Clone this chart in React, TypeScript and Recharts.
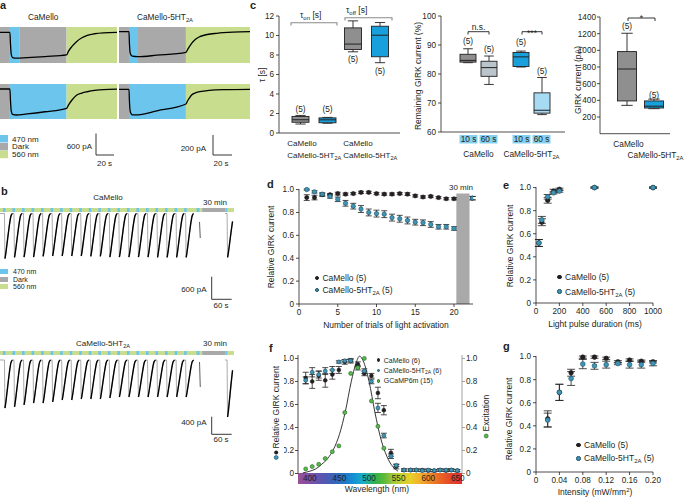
import React from "react";
import {
  LineChart,
  Line,
  BarChart,
  Bar,
  ComposedChart,
  Scatter,
  ErrorBar,
  XAxis,
  YAxis,
  ReferenceArea,
  Legend,
} from "recharts";

const FONT = "'Liberation Sans', Arial, Helvetica, sans-serif";
const INK = "#231f20";
const LIGHT: Record<string, string> = { blue: "#6cc5ec", dark: "#a9a9a9", green: "#c8de8e" };
const TEAL = "#3f95b5";
const TEAL_EDGE = "#1b4f62";
const GC = "#5cb848";
const GC_EDGE = "#22632a";
const BOX_GREY = "#8f8f8f";
const BOX_BLUE = "#18a0dc";
const BOX_GREY_LT = "#b9c5ca";
const BOX_BLUE_LT = "#a6dbf3";
const TAG = "#86d1f1";
const TICK = { fontSize: 8.2, fill: INK, fontFamily: FONT };

// ---- a: single sweeps (time s, current pA)
const aTopCamT = [0, 11, 11.6, 12.5, 14, 18, 30, 50, 74, 76, 80, 85, 91, 97, 105, 115, 130];
const aTopCamI = [0, 0, -300, -600, -690, -705, -690, -660, -615, -520, -385, -255, -150, -85, -40, -15, -5];
const aTopHtT = [0, 10.5, 11, 12, 14, 20, 40, 70.5, 72.5, 76.5, 80, 85, 93, 103, 120, 138];
const aTopHtI = [0, 0, -120, -220, -245, -250, -235, -206, -175, -116, -80, -50, -28, -16, -5, 0];
const aBotCamT = [0, 11, 11.6, 12.5, 14, 18, 30, 50, 74, 76, 80, 85, 91, 97, 105, 115, 130];
const aBotCamI = [0, 0, -300, -600, -690, -708, -680, -620, -526, -440, -300, -170, -110, -75, -40, -15, -5];
const aBotHtT = [0, 10.5, 11, 12, 14, 20, 40, 70.5, 72, 74, 76.5, 80, 85, 95, 110, 138];
const aBotHtI = [0, 0, -120, -230, -255, -255, -215, -147, -120, -90, -57, -38, -24, -10, -3, 0];
const aTopCamLight = [["dark", 0, 11], ["blue", 11, 22], ["dark", 22, 74], ["green", 74, 130]];
const aTopHtLight = [["dark", 0, 10.5], ["blue", 10.5, 20], ["dark", 20, 70.5], ["green", 70.5, 138]];
const aBotCamLight = [["dark", 0, 11], ["blue", 11, 74], ["green", 74, 130]];
const aBotHtLight = [["dark", 0, 10.5], ["blue", 10.5, 70.5], ["green", 70.5, 138]];

// ---- b: repeated activation (time s, current pA)
const bOnsets = [12, 38, 64, 90, 116, 142, 168, 194, 220, 246, 272, 298, 324, 350, 376, 402, 428, 454, 480, 506];
const bCamAmp = [1230, 1200, 1190, 1190, 1170, 1160, 1160, 1160, 1160, 1170, 1170, 1190, 1190, 1190, 1190, 1190, 1200, 1200, 1200, 1200];
const bHtAmp = [1066, 1043, 999, 955, 955, 932, 888, 888, 866, 866, 866, 844, 821, 821, 821, 821, 821, 821, 821, 821];
// sweep outline: fast drop (thin), slow recovery (thick) from index 1 on
const sweepShapeT = [0, 1.5, 3, 7, 11, 15, 18, 22];
const sweepShapeF = [0, -1, -0.93, -0.68, -0.42, -0.18, -0.05, 0];
const bLastBlue = [536, 544];
const bPartialT = [544, 546];
const bCamPartialI = [-230, -670];
const bHtPartialI = [-44, -600];
const bGap = [551, 614];
const bPostOnset = 619;
const bCamPostAmp = 1200;
const bHtPostAmp = 1265;

// ---- c: box plots [min, q1, median, q3, max]
const tauCats = ["on", "off"];
const tauCaMello = [[0.92, 1.1, 1.36, 1.7, 1.8], [8.33, 8.57, 9.12, 10.78, 11.5]];
const tauHT = [[1.0, 1.05, 1.35, 1.55, 1.6], [7.21, 7.82, 10.03, 10.95, 11.33]];
const tauN = [[5, 5], [5, 5]];
const tauNAt = [[2.45, 2.45], [7.6, 6.4]];

const remainCats = ["CaMello", "CaMello-5HT2A"];
const remain10 = [[83.9, 84.1, 84.7, 86.8, 88.7], [82.4, 82.6, 85.9, 87.4, 87.9]];
const remain60 = [[76.4, 79.2, 82.2, 84.4, 86.2], [66.0, 66.5, 67.5, 73.5, 78.8]];
const remainN = [[5, 5], [5, 5]];
const remainNAt = [[91.4, 88.5], [91.0, 81.0]];

const girkCats = ["CaMello", "CaMello-5HT2A"];
const girkBox = [[340, 393, 776, 985, 1205], [300, 308, 330, 393, 415]];
const girkN = [5, 5];
const girkNAt = [1290, 470];

// ---- d: relative current per trial (22.4 = after 30 min)
const dTrials = [1, 2, 3, 4, 5, 6, 7, 8, 9, 10, 11, 12, 13, 14, 15, 16, 17, 18, 19, 20, 22.4];
const dCaMello = [0.93, 0.93, 0.955, 0.955, 0.965, 0.96, 0.965, 0.975, 0.975, 0.965, 0.96, 0.96, 0.965, 0.96, 0.945, 0.935, 0.94, 0.93, 0.92, 0.92, 0.925];
const dCaMelloErr = [0.025, 0.02, 0.015, 0.01, 0.012, 0.01, 0.01, 0.01, 0.01, 0.01, 0.01, 0.01, 0.01, 0.012, 0.01, 0.01, 0.01, 0.01, 0.01, 0.01, 0.015];
const dHT = [1.0, 0.98, 0.96, 0.94, 0.915, 0.88, 0.855, 0.83, 0.8, 0.79, 0.785, 0.755, 0.745, 0.73, 0.715, 0.71, 0.695, 0.675, 0.675, 0.66, 0.925];
const dHTErr = [0.005, 0.01, 0.01, 0.015, 0.02, 0.025, 0.025, 0.03, 0.03, 0.03, 0.03, 0.03, 0.03, 0.03, 0.025, 0.025, 0.025, 0.02, 0.02, 0.015, 0.015];

// ---- e: pulse duration (ms)
const eDur = [25, 50, 100, 150, 200, 500, 1000];
const eCaMello = [0.52, 0.7, 0.89, 0.97, 0.985, 1.0, 1.0];
const eCaMelloErr = [0.03, 0.03, 0.025, 0.015, 0.01, 0.005, 0.005];
const eHT = [0.52, 0.72, 0.92, 0.955, 0.97, 1.0, 1.0];
const eHTErr = [0.03, 0.03, 0.02, 0.01, 0.01, 0.005, 0.005];

// ---- f: action spectrum (nm)
const fWl = [393, 404, 415, 426, 438, 449, 459, 469, 481, 492, 504, 515, 525, 537, 546, 559, 570, 580, 590, 600, 610, 620, 630, 639, 649];
const fCaMello = [0.83, 0.8, 0.85, 0.81, 0.86, 0.9, 0.97, 0.98, 0.95, 0.87, 0.85, 0.7, 0.55, 0.18, 0.06, 0.03, 0.03, 0.03, 0.03, 0.025, 0.025, 0.03, 0.025, 0.03, 0.025];
const fCaMelloErr = [0.05, 0.06, 0.04, 0.06, 0.04, 0.03, 0.02, 0.02, 0.02, 0.02, 0.02, 0.05, 0.04, 0.03, 0.02, 0.01, 0.01, 0.01, 0.01, 0.01, 0.01, 0.01, 0.01, 0.01, 0.01];
const fHT = [0.81, 0.88, 0.86, 0.89, 0.9, 0.97, 0.98, 0.98, 0.92, 0.89, 0.8, 0.57, 0.33, 0.15, 0.07, 0.03, 0.03, 0.03, 0.025, 0.03, 0.025, 0.03, 0.03, 0.03, 0.025];
const fHTErr = [0.03, 0.04, 0.03, 0.03, 0.03, 0.01, 0.01, 0.01, 0.02, 0.02, 0.02, 0.04, 0.02, 0.02, 0.01, 0.01, 0.01, 0.01, 0.01, 0.01, 0.01, 0.01, 0.01, 0.01, 0.01];
const fGCaMP = [0.04, 0.06, 0.08, 0.13, 0.19, 0.24, 0.53, 0.87, 0.92, 1.0, 0.63, 0.41, 0.22];
const fFitWl = [388, 400, 410, 420, 430, 440, 450, 460, 470, 478, 484, 490, 500, 510, 520, 530, 540, 549];
const fFit = [0.005, 0.02, 0.04, 0.08, 0.13, 0.21, 0.34, 0.54, 0.8, 0.96, 1.02, 0.98, 0.8, 0.53, 0.3, 0.15, 0.06, 0.02];

// ---- g: intensity (mW/mm2)
const gInt = [0.02, 0.04, 0.06, 0.08, 0.1, 0.12, 0.14, 0.16, 0.18, 0.2];
const gCaMello = [0.46, 0.69, 0.86, 0.995, 0.995, 0.985, 0.955, 0.97, 0.96, 0.955];
const gCaMelloErr = [0.07, 0.07, 0.03, 0.01, 0.01, 0.01, 0.01, 0.01, 0.01, 0.01];
const gHT = [0.45, 0.69, 0.81, 0.935, 0.92, 0.93, 0.94, 0.93, 0.93, 0.94];
const gHTErr = [0.06, 0.07, 0.06, 0.04, 0.03, 0.03, 0.01, 0.03, 0.03, 0.02];

const fmt1 = (v: number) => (v === 0 ? "0" : v.toFixed(1));
const fmt2 = (v: number) => (v === 0 ? "0" : v.toFixed(2));
const unitTicks = [0, 0.2, 0.4, 0.6, 0.8, 1.0];

type Rect = { x: number; y: number; w: number; h: number };

// place a chart so that its plot area lands on rect
function frame(r: Rect, yW: number, xH: number, yWR = 0, mt = 8, mr = 8, mb = 2) {
  return {
    style: { position: "absolute" as const, left: r.x - yW, top: r.y - mt },
    width: yW + r.w + yWR + mr,
    height: mt + r.h + xH + mb,
    margin: { top: mt, right: mr, bottom: mb, left: 0 },
  };
}

const HT = ({ fs = 8.3 }: { fs?: number }) => (
  <>
    CaMello-5HT<tspan dy={2} fontSize={fs * 0.7}>2A</tspan>
    <tspan dy={-2}>{""}</tspan>
  </>
);

function Trace({ rect, t, v, light, xMax, yDom }: any) {
  const rows = t.map((x: number, i: number) => ({ t: x, v: v[i] }));
  return (
    <div style={{ position: "absolute", left: rect.x, top: rect.y }}>
      <LineChart width={rect.w} height={rect.h} data={rows} margin={{ top: 0, right: 0, bottom: 0, left: 0 }}>
        <XAxis type="number" dataKey="t" domain={[0, xMax]} hide />
        <YAxis type="number" domain={yDom} hide />
        {light.map(([k, a, b]: any, i: number) => (
          <ReferenceArea key={i} x1={a} x2={b} fill={LIGHT[k]} fillOpacity={1} stroke="none" />
        ))}
        <Line type="monotone" dataKey="v" stroke="#000" strokeWidth={1.3} dot={false} isAnimationActive={false} />
      </LineChart>
    </div>
  );
}

function Sweeps({ rect, amps, partialI, postAmp, yDom, barY }: any) {
  // v: whole trace (thin), r: recovery phase only (thick)
  const rows: { t: number; v: number; r: number | null }[] = [{ t: 0, v: 0, r: 0 }];
  bOnsets.forEach((t0, i) =>
    sweepShapeT.forEach((dt, j) => {
      const v = sweepShapeF[j] * amps[i];
      rows.push({ t: t0 + dt, v, r: j === 0 ? null : v });
    })
  );
  const partial = bPartialT.map((t, i) => ({ t, v: partialI[i] }));
  const post = [{ t: bGap[1], v: 0, r: 0 as number | null }, { t: bPostOnset, v: 0, r: 0 as number | null }].concat(
    sweepShapeT.slice(1, 6).map((dt, j) => {
      const v = sweepShapeF[j + 1] * postAmp;
      return { t: bPostOnset + dt, v, r: j === 0 ? v : v };
    })
  );
  post[1].r = null;
  const [y1, y2] = barY;
  return (
    <div style={{ position: "absolute", left: rect.x, top: rect.y }}>
      <LineChart width={rect.w} height={rect.h} margin={{ top: 0, right: 0, bottom: 0, left: 0 }}>
        <XAxis type="number" dataKey="t" domain={[0, 638]} hide allowDataOverflow />
        <YAxis type="number" domain={yDom} hide />
        <ReferenceArea x1={0} x2={bGap[0]} y1={y1} y2={y2} fill={LIGHT.green} fillOpacity={1} stroke="none" />
        {bOnsets.map((t0) => (
          <ReferenceArea key={t0} x1={t0 - 4} x2={t0 + 3} y1={y1} y2={y2} fill={LIGHT.blue} fillOpacity={1} stroke="none" />
        ))}
        <ReferenceArea x1={bLastBlue[0]} x2={bLastBlue[1]} y1={y1} y2={y2} fill={LIGHT.blue} fillOpacity={1} stroke="none" />
        <ReferenceArea x1={bGap[0]} x2={bGap[1]} y1={y1} y2={y2} fill={LIGHT.dark} fillOpacity={1} stroke="none" />
        <ReferenceArea x1={bGap[1]} x2={bPostOnset + 2} y1={y1} y2={y2} fill={LIGHT.blue} fillOpacity={1} stroke="none" />
        <ReferenceArea x1={bPostOnset + 2} x2={638} y1={y1} y2={y2} fill={LIGHT.green} fillOpacity={1} stroke="none" />
        <Line data={rows} type="monotone" dataKey="v" stroke="#555" strokeWidth={0.5} dot={false} isAnimationActive={false} />
        <Line data={rows} type="monotone" dataKey="r" stroke="#000" strokeWidth={1.4} dot={false} isAnimationActive={false} />
        <Line data={partial} type="linear" dataKey="v" stroke="#333" strokeWidth={0.8} dot={false} isAnimationActive={false} />
        <Line data={post} type="monotone" dataKey="v" stroke="#555" strokeWidth={0.5} dot={false} isAnimationActive={false} />
        <Line data={post} type="monotone" dataKey="r" stroke="#000" strokeWidth={1.4} dot={false} isAnimationActive={false} />
      </LineChart>
    </div>
  );
}

function BoxShape(props: any) {
  const { x, y, width, height, stats, fill, n, nAt } = props;
  if (!stats) return null;
  const [mn, q1, md, q3, mx] = stats;
  const top = Math.min(y, y + height);
  const bot = Math.max(y, y + height);
  const py = (v: number) => bot - ((v - mn) / (mx - mn)) * (bot - top);
  const cx = x + width / 2;
  const cap = width * 0.3;
  const s = { stroke: INK, strokeWidth: 0.9 };
  return (
    <g>
      <line x1={cx} x2={cx} y1={py(mx)} y2={py(q3)} {...s} />
      <line x1={cx} x2={cx} y1={py(q1)} y2={py(mn)} {...s} />
      <line x1={cx - cap} x2={cx + cap} y1={py(mx)} y2={py(mx)} {...s} />
      <line x1={cx - cap} x2={cx + cap} y1={py(mn)} y2={py(mn)} {...s} />
      <rect x={x} y={py(q3)} width={width} height={Math.max(py(q1) - py(q3), 0.5)} fill={fill} {...s} />
      <line x1={x} x2={x + width} y1={py(md)} y2={py(md)} stroke={INK} strokeWidth={1} />
      <text x={cx} y={py(nAt) + 3} textAnchor="middle" fontSize={8.3} fill={INK} fontFamily={FONT}>
        ({n})
      </text>
    </g>
  );
}

const axisProps = { stroke: INK, strokeWidth: 0.8 };

function TauTick({ x, y, index }: any) {
  const left = x - (index === 0 ? 27 : 23.5);
  return (
    <g fontSize={8} fill={INK} fontFamily={FONT}>
      <text x={left} y={y + 13}>CaMello</text>
      <text x={left} y={y + 25}>
        <HT fs={8} />
      </text>
    </g>
  );
}

function TauChart() {
  const rows = tauCats.map((c, i) => ({
    cat: c,
    cam: tauCaMello[i],
    ht: tauHT[i],
    camN: tauN[i][0],
    htN: tauN[i][1],
    camAt: tauNAt[i][0],
    htAt: tauNAt[i][1],
  }));
  const f = frame({ x: 279, y: 16, w: 121, h: 117 }, 14, 30, 0, 8, 14);
  return (
    <div style={f.style}>
      <BarChart width={f.width} height={f.height} data={rows} margin={f.margin} barGap={10}>
        <XAxis dataKey="cat" interval={0} tick={(p: any) => <TauTick {...p} />} tickLine={false} tickSize={0} tickMargin={0} height={30} padding={{ left: 9, right: 7 }} {...axisProps} />
        <YAxis type="number" domain={[0, 12]} ticks={[0, 2, 4, 6, 8, 10, 12]} interval={0} width={14} tick={TICK} tickSize={3} {...axisProps} />
        <Bar dataKey={(d: any) => [d.cam[0], d.cam[4]]} barSize={17} isAnimationActive={false}
          shape={(p: any) => <BoxShape {...p} stats={p.payload.cam} fill={BOX_GREY} n={p.payload.camN} nAt={p.payload.camAt} />} />
        <Bar dataKey={(d: any) => [d.ht[0], d.ht[4]]} barSize={17} isAnimationActive={false}
          shape={(p: any) => <BoxShape {...p} stats={p.payload.ht} fill={BOX_BLUE} n={p.payload.htN} nAt={p.payload.htAt} />} />
      </BarChart>
    </div>
  );
}

function RemainTick({ x, y, payload }: any) {
  return (
    <g fontSize={8.3} fill={INK} fontFamily={FONT}>
      <rect x={x - 19} y={y + 3} width={18} height={8.5} fill={TAG} />
      <rect x={x + 1} y={y + 3} width={18} height={8.5} fill={TAG} />
      <text x={x - 10} y={y + 10.3} textAnchor="middle">10 s</text>
      <text x={x + 10} y={y + 10.3} textAnchor="middle">60 s</text>
      <text x={x} y={y + 25} textAnchor="middle">
        {payload.value === "CaMello" ? "CaMello" : <HT />}
      </text>
    </g>
  );
}

function RemainChart() {
  const rows = remainCats.map((c, i) => ({
    cat: c,
    s10: remain10[i],
    s60: remain60[i],
    n10: remainN[i][0],
    n60: remainN[i][1],
    at10: remainNAt[i][0],
    at60: remainNAt[i][1],
  }));
  const c10 = [BOX_GREY, BOX_BLUE];
  const c60 = [BOX_GREY_LT, BOX_BLUE_LT];
  const f = frame({ x: 441, y: 16, w: 124, h: 116 }, 20, 30);
  return (
    <div style={f.style}>
      <BarChart width={f.width} height={f.height} data={rows} margin={f.margin} barGap={5}>
        <XAxis dataKey="cat" interval={0} tick={(p: any) => <RemainTick {...p} />} tickLine={false} tickSize={0} tickMargin={0} height={30} padding={{ left: 11, right: 7 }} {...axisProps} />
        <YAxis type="number" domain={[60, 100]} ticks={[60, 70, 80, 90, 100]} interval={0} width={20} tick={TICK} tickSize={3} {...axisProps} />
        <Bar dataKey={(d: any) => [d.s10[0], d.s10[4]]} barSize={16} isAnimationActive={false}
          shape={(p: any) => <BoxShape {...p} stats={p.payload.s10} fill={c10[p.index]} n={p.payload.n10} nAt={p.payload.at10} />} />
        <Bar dataKey={(d: any) => [d.s60[0], d.s60[4]]} barSize={16} isAnimationActive={false}
          shape={(p: any) => <BoxShape {...p} stats={p.payload.s60} fill={c60[p.index]} n={p.payload.n60} nAt={p.payload.at60} />} />
      </BarChart>
    </div>
  );
}

function GirkTick({ x, y, index }: any) {
  return (
    <text x={x + 1.5} y={y + (index === 0 ? 13.3 : 24.5)} textAnchor="middle" fontSize={8.3} fill={INK} fontFamily={FONT}>
      {index === 0 ? "CaMello" : <HT />}
    </text>
  );
}

function GirkChart() {
  const rows = girkCats.map((c, i) => ({ cat: c, box: girkBox[i], n: girkN[i], at: girkNAt[i] }));
  const fills = [BOX_GREY, BOX_BLUE];
  const f = frame({ x: 600, y: 17, w: 70, h: 116.7 }, 26, 30, 0, 8, 14);
  return (
    <div style={f.style}>
      <BarChart width={f.width} height={f.height} data={rows} margin={f.margin}>
        <XAxis dataKey="cat" interval={0} tick={(p: any) => <GirkTick {...p} />} tickLine={false} tickSize={0} tickMargin={0} height={30} padding={{ left: 13.5, right: 2.5 }} {...axisProps} />
        <YAxis type="number" domain={[0, 1400]} ticks={[200, 400, 600, 800, 1000, 1200, 1400]} interval={0} width={26} tick={TICK} tickSize={3} tickMargin={1} {...axisProps} />
        <Bar dataKey={(d: any) => [d.box[0], d.box[4]]} barSize={19} isAnimationActive={false}
          shape={(p: any) => <BoxShape {...p} stats={p.payload.box} fill={fills[p.index]} n={p.payload.n} nAt={p.payload.at} />} />
      </BarChart>
    </div>
  );
}

const dot = (fill: string, edge: string, r: number) => (p: any) =>
  p.cx == null ? <g /> : <circle cx={p.cx} cy={p.cy} r={r} fill={fill} stroke={edge} strokeWidth={0.6} />;

function DotKey({ items, fs, row, r }: any) {
  return (
    <div style={{ fontFamily: FONT, fontSize: fs, color: INK }}>
      {items.map((it: any, i: number) => (
        <div key={i} style={{ display: "flex", alignItems: "center", whiteSpace: "nowrap", height: row }}>
          <span style={{ width: 2 * r, height: 2 * r, borderRadius: "50%", background: it.fill, boxSizing: "border-box", border: `0.7px solid ${it.edge}`, marginRight: 3.5, flex: "none" }} />
          <span>{it.label}</span>
        </div>
      ))}
    </div>
  );
}

const HTsub = ({ tail }: { tail: string }) => (
  <>
    CaMello-5HT<sub style={{ fontSize: "0.7em", verticalAlign: "-0.3em", lineHeight: 0 }}>2A</sub>
    {tail}
  </>
);

function keyItems(tail: string) {
  return [
    { fill: INK, edge: INK, label: `CaMello${tail}` },
    { fill: TEAL, edge: TEAL_EDGE, label: <HTsub tail={tail} /> },
  ];
}

function rows(xs: number[], ys: number[], es?: number[]) {
  return ys.map((y, i) => ({ x: xs[i], y, e: es ? es[i] : 0 }));
}

function TrialsChart() {
  const f = frame({ x: 299, y: 189, w: 174, h: 115 }, 18, 14);
  return (
    <div style={f.style}>
      <ComposedChart width={f.width} height={f.height} margin={f.margin}>
        <XAxis type="number" dataKey="x" domain={[0, 22.45]} allowDataOverflow ticks={[0, 5, 10, 15, 20]} interval={0} height={14} tick={TICK} tickSize={3} {...axisProps} />
        <YAxis type="number" domain={[0, 1]} ticks={unitTicks} interval={0} tickFormatter={fmt1} width={18} tick={TICK} tickSize={3} {...axisProps} />
        <ReferenceArea x1={20.3} x2={22.0} y1={0} y2={0.965} fill={LIGHT.dark} fillOpacity={1} stroke="none" />
        <Scatter data={rows(dTrials, dCaMello, dCaMelloErr)} dataKey="y" shape={dot(INK, INK, 2.1)} isAnimationActive={false}>
          <ErrorBar dataKey="e" direction="y" width={3} stroke={INK} strokeWidth={0.8} />
        </Scatter>
        <Scatter data={rows(dTrials, dHT, dHTErr)} dataKey="y" shape={dot(TEAL, TEAL_EDGE, 2.2)} isAnimationActive={false}>
          <ErrorBar dataKey="e" direction="y" width={3} stroke={INK} strokeWidth={0.8} />
        </Scatter>
        <Legend layout="horizontal" verticalAlign="middle" align="center"
          wrapperStyle={{ left: 314.5 - f.style.left, top: 272.3 - f.style.top, width: "auto" }}
          content={() => <DotKey items={keyItems(" (5)")} fs={8.5} row={12} r={2.2} />} />
      </ComposedChart>
    </div>
  );
}

function DurationChart() {
  const f = frame({ x: 536, y: 187, w: 117, h: 116 }, 18, 14, 0, 8, 14);
  return (
    <div style={f.style}>
      <ComposedChart width={f.width} height={f.height} margin={f.margin}>
        <XAxis type="number" dataKey="x" domain={[0, 1000]} ticks={[0, 200, 400, 600, 800, 1000]} interval={0} height={14} tick={TICK} tickSize={3} {...axisProps} />
        <YAxis type="number" domain={[0, 1]} ticks={unitTicks} interval={0} tickFormatter={fmt1} width={18} tick={TICK} tickSize={3} {...axisProps} />
        <Scatter data={rows(eDur, eCaMello, eCaMelloErr)} dataKey="y" shape={dot(INK, INK, 2.3)} isAnimationActive={false}>
          <ErrorBar dataKey="e" direction="y" width={4} stroke={INK} strokeWidth={0.8} />
        </Scatter>
        <Scatter data={rows(eDur, eHT, eHTErr)} dataKey="y" shape={dot(TEAL, TEAL_EDGE, 2.4)} isAnimationActive={false}>
          <ErrorBar dataKey="e" direction="y" width={4} stroke={INK} strokeWidth={0.8} />
        </Scatter>
        <Legend layout="horizontal" verticalAlign="middle" align="center"
          wrapperStyle={{ left: 557 - f.style.left, top: 270 - f.style.top, width: "auto" }}
          content={() => <DotKey items={keyItems(" (5)")} fs={8.5} row={14.4} r={2.3} />} />
      </ComposedChart>
    </div>
  );
}

function SpectrumChart() {
  const gc = fGCaMP.map((y, i) => ({ x: fWl[i], y }));
  const fit = fFitWl.map((x, i) => ({ x, y: fFit[i] }));
  const yMax = 1.03;
  const f = frame({ x: 298, y: 354.5, w: 164, h: 118.5 }, 14, 14, 14, 4, 6);
  const items = [
    { fill: INK, edge: INK, label: "CaMello (6)" },
    { fill: TEAL, edge: TEAL_EDGE, label: <HTsub tail=" (6)" /> },
    { fill: GC, edge: GC_EDGE, label: "GCaMP6m (15)" },
  ];
  return (
    <div style={f.style}>
      <ComposedChart width={f.width} height={f.height} margin={f.margin}>
        <XAxis type="number" dataKey="x" domain={[380, 657]} allowDataOverflow ticks={[400, 450, 500, 550, 600, 650]} interval={0} height={14} axisLine={false} tickLine={false} tickSize={0} tickMargin={1.5} tick={TICK} />
        <YAxis yAxisId="l" type="number" domain={[0, yMax]} ticks={unitTicks} interval={0} tickFormatter={fmt1} width={14} tick={TICK} tickSize={3} tickMargin={1} {...axisProps} />
        <YAxis yAxisId="r" orientation="right" type="number" domain={[0, yMax]} ticks={unitTicks} interval={0} tickFormatter={fmt1} width={14} tick={TICK} tickSize={3} tickMargin={1} stroke="#8a8a8a" strokeWidth={0.8} />
        <Line yAxisId="r" data={fit} dataKey="y" type="monotone" stroke={INK} strokeWidth={0.9} dot={false} isAnimationActive={false} />
        <Scatter yAxisId="l" data={rows(fWl, fCaMello, fCaMelloErr)} dataKey="y" shape={dot(INK, INK, 1.9)} isAnimationActive={false}>
          <ErrorBar dataKey="e" direction="y" width={3} stroke={INK} strokeWidth={0.8} />
        </Scatter>
        <Scatter yAxisId="l" data={rows(fWl, fHT, fHTErr)} dataKey="y" shape={dot(TEAL, TEAL_EDGE, 2)} isAnimationActive={false}>
          <ErrorBar dataKey="e" direction="y" width={3} stroke={INK} strokeWidth={0.8} />
        </Scatter>
        <Scatter yAxisId="r" data={gc} dataKey="y" shape={dot(GC, GC_EDGE, 2)} isAnimationActive={false} />
        <Legend layout="horizontal" verticalAlign="middle" align="center"
          wrapperStyle={{ left: 376.5 - f.style.left, top: 355 - f.style.top, width: "auto" }}
          content={() => <DotKey items={items} fs={7} row={10.3} r={1.9} />} />
      </ComposedChart>
    </div>
  );
}

function IntensityChart() {
  const f = frame({ x: 536, y: 356, w: 117, h: 116 }, 18, 14, 0, 8, 14);
  return (
    <div style={f.style}>
      <ComposedChart width={f.width} height={f.height} margin={f.margin}>
        <XAxis type="number" dataKey="x" domain={[0, 0.2]} ticks={[0, 0.04, 0.08, 0.12, 0.16, 0.2]} interval={0} tickFormatter={fmt2} height={14} tick={TICK} tickSize={3} {...axisProps} />
        <YAxis type="number" domain={[0, 1]} ticks={unitTicks} interval={0} tickFormatter={fmt1} width={18} tick={TICK} tickSize={3} {...axisProps} />
        <Scatter data={rows(gInt, gCaMello, gCaMelloErr)} dataKey="y" shape={dot(INK, INK, 2.3)} isAnimationActive={false}>
          <ErrorBar dataKey="e" direction="y" width={4} stroke={INK} strokeWidth={0.8} />
        </Scatter>
        <Scatter data={rows(gInt, gHT, gHTErr)} dataKey="y" shape={dot(TEAL, TEAL_EDGE, 2.4)} isAnimationActive={false}>
          <ErrorBar dataKey="e" direction="y" width={4} stroke={INK} strokeWidth={0.8} />
        </Scatter>
        <Legend layout="horizontal" verticalAlign="middle" align="center"
          wrapperStyle={{ left: 576 - f.style.left, top: 438.5 - f.style.top, width: "auto" }}
          content={() => <DotKey items={keyItems(" (5)")} fs={8.5} row={13.3} r={2.3} />} />
      </ComposedChart>
    </div>
  );
}

const SPECTRUM = [
  [380, "#9b4f96"], [400, "#7d4fa5"], [420, "#5a56b0"], [440, "#3a62b8"], [460, "#1f78c8"],
  [475, "#1493d3"], [490, "#19aecb"], [500, "#1fb38a"], [510, "#2eb34c"], [525, "#5cb83a"],
  [540, "#9dc73a"], [555, "#c9d12f"], [570, "#e8cf2a"], [585, "#f2b22a"], [600, "#f08e27"],
  [620, "#ea6524"], [640, "#e3432a"], [657, "#dd3030"],
];

function Rot({ x, y, children, fs = 8.5 }: any) {
  return (
    <text transform={`translate(${x},${y}) rotate(-90)`} textAnchor="middle" fontSize={fs}>
      {children}
    </text>
  );
}

export default function App() {
  const bracket = { stroke: INK, strokeWidth: 0.9, fill: "none" };
  const grey = { stroke: "#8a8a8a", strokeWidth: 1.1, fill: "none" };
  return (
    <div style={{ position: "absolute", left: 0, top: 0, width: 684, height: 498, background: "#fff", overflow: "hidden", fontFamily: FONT }}>
      <svg width={684} height={498} style={{ position: "absolute", left: 0, top: 0 }}>
        <defs>
          <linearGradient id="spec" x1="0" x2="1" y1="0" y2="0">
            {SPECTRUM.map(([wl, c]) => (
              <stop key={wl as number} offset={((wl as number) - 380) / 277} stopColor={c as string} />
            ))}
          </linearGradient>
        </defs>
        <rect x={298} y={473} width={164} height={11} fill="url(#spec)" />
      </svg>

      <Trace rect={{ x: 0, y: 27, w: 117, h: 36 }} t={aTopCamT} v={aTopCamI} light={aTopCamLight} xMax={130} yDom={[-836, 144]} />
      <Trace rect={{ x: 119, y: 27, w: 131, h: 36 }} t={aTopHtT} v={aTopHtI} light={aTopHtLight} xMax={138} yDom={[-313, 47]} />
      <Trace rect={{ x: 0, y: 84, w: 117, h: 35 }} t={aBotCamT} v={aBotCamI} light={aBotCamLight} xMax={130} yDom={[-817, 136]} />
      <Trace rect={{ x: 119, y: 84, w: 131, h: 35 }} t={aBotHtT} v={aBotHtI} light={aBotHtLight} xMax={138} yDom={[-297, 53]} />

      <Sweeps rect={{ x: 0, y: 206, w: 234, h: 56 }} amps={bCamAmp} partialI={bCamPartialI} postAmp={bCamPostAmp} yDom={[-1324, 205]} barY={[41, 150]} />
      <Sweeps rect={{ x: 0, y: 349, w: 234, h: 76 }} amps={bHtAmp} partialI={bHtPartialI} postAmp={bHtPostAmp} yDom={[-1443, 244]} barY={[111, 200]} />

      <TauChart />
      <RemainChart />
      <GirkChart />
      <TrialsChart />
      <DurationChart />
      <SpectrumChart />
      <IntensityChart />

      <svg width={684} height={498} style={{ position: "absolute", left: 0, top: 0, pointerEvents: "none" }} fontFamily={FONT} fill={INK}>
        <g fontWeight="bold" fontSize={11}>
          <text x={0} y={8.5}>a</text>
          <text x={1} y={195}>b</text>
          <text x={250} y={9}>c</text>
          <text x={267} y={188}>d</text>
          <text x={503} y={188.5}>e</text>
          <text x={269} y={352}>f</text>
          <text x={503} y={350}>g</text>
        </g>

        {/* a */}
        <g fontSize={8.3}>
          <text x={28} y={19.5}>CaMello</text>
          <text x={137} y={19.5}><HT /></text>
        </g>
        <rect x={0} y={135} width={8} height={7.5} fill={LIGHT.blue} />
        <rect x={0} y={143} width={8} height={7.5} fill={LIGHT.dark} />
        <rect x={0} y={150.7} width={8} height={7.5} fill={LIGHT.green} />
        <g fontSize={8}>
          <text x={12} y={141.5}>470 nm</text>
          <text x={12} y={149}>Dark</text>
          <text x={12} y={157}>560 nm</text>
          <text x={92} y={149} textAnchor="end">600 pA</text>
          <text x={97} y={165.5}>20 s</text>
          <text x={206} y={151} textAnchor="end">200 pA</text>
          <text x={213.5} y={165.5}>20 s</text>
        </g>
        <path d="M96,133.5 V155 H114" {...bracket} />
        <path d="M213,135 V155 H232" {...bracket} />

        {/* b */}
        <g fontSize={8}>
          <text x={108} y={199.5} textAnchor="middle">CaMello</text>
          <text x={203} y={204.5}>30 min</text>
          <text x={103} y={346} textAnchor="middle"><HT fs={8} /></text>
          <text x={203} y={346}>30 min</text>
          <text x={206.5} y={291.5} textAnchor="end">600 pA</text>
          <text x={213.5} y={308}>60 s</text>
          <text x={206.5} y={425} textAnchor="end">400 pA</text>
          <text x={213.5} y={442}>60 s</text>
        </g>
        <rect x={0} y={269} width={8} height={5} fill={LIGHT.blue} />
        <rect x={0} y={277} width={8} height={5} fill={LIGHT.dark} />
        <rect x={0} y={284} width={8} height={5} fill={LIGHT.green} />
        <g fontSize={7}>
          <text x={13} y={274.3}>470 nm</text>
          <text x={13} y={281.6}>Dark</text>
          <text x={13} y={288.9}>560 nm</text>
        </g>
        <path d="M211.7,276.7 V299.3 H231.7" {...bracket} />
        <path d="M211.7,416.7 V434.3 H231.7" {...bracket} />

        {/* c */}
        <g fontSize={8.5}>
          <text x={300} y={17.5}>τ<tspan dy={2} fontSize={6}>on</tspan><tspan dy={-2}> [s]</tspan></text>
          <text x={346} y={12.5}>τ<tspan dy={2} fontSize={6}>off</tspan><tspan dy={-2}> [s]</tspan></text>
          <text x={478.5} y={29.5} textAnchor="middle">n.s.</text>
          <text x={532} y={35.5} textAnchor="middle">***</text>
          <text x={641.5} y={20.5} textAnchor="middle">*</text>
          <Rot x={264.5} y={75}>τ [s]</Rot>
          <Rot x={420.5} y={76}>Remaining GIRK current (%)</Rot>
          <Rot x={581} y={80}>GIRK current (pA)</Rot>
        </g>
        <path d="M291,25.5 V22.7 H337 V25.5" {...grey} />
        <path d="M345,20.5 V17.7 H392 V20.5" {...grey} />
        <path d="M468,34.5 V31.7 H489 V34.5" {...bracket} />
        <path d="M522,34.5 V31.7 H542 V34.5" {...bracket} />
        <path d="M628,21 V18 H655 V21" {...bracket} />

        {/* d, e */}
        <g fontSize={8.5}>
          <text x={449} y={189.5} fontSize={8}>30 min</text>
          <Rot x={273.5} y={247}>Relative GIRK current</Rot>
          <text x={386} y={328} textAnchor="middle">Number of trials of light activation</text>
          <Rot x={512.5} y={246}>Relative GIRK current</Rot>
          <text x={595} y={327} textAnchor="middle">Light pulse duration (ms)</text>
        </g>

        {/* f, g */}
        <g fontSize={8.5}>
          <g transform="translate(279,459) rotate(-90)">
            <circle cx={1.5} cy={-2.8} r={2} fill={TEAL} stroke={TEAL_EDGE} strokeWidth={0.6} />
            <circle cx={6.5} cy={-2.8} r={2} fill={INK} />
            <text x={10.5} y={0}>Relative GIRK current</text>
          </g>
          <g transform="translate(489,436) rotate(-90)">
            <circle cx={0} cy={-2.8} r={2} fill={GC} stroke={GC_EDGE} strokeWidth={0.6} />
            <text x={4.5} y={0}>Excitation</text>
          </g>
          <text x={377} y={492} textAnchor="middle">Wavelength (nm)</text>
          <Rot x={512} y={419}>Relative GIRK current</Rot>
          <text x={595} y={495} textAnchor="middle">
            Intensity (mW/mm<tspan dy={-3} fontSize={6}>2</tspan><tspan dy={3}>)</tspan>
          </text>
        </g>
      </svg>
    </div>
  );
}
